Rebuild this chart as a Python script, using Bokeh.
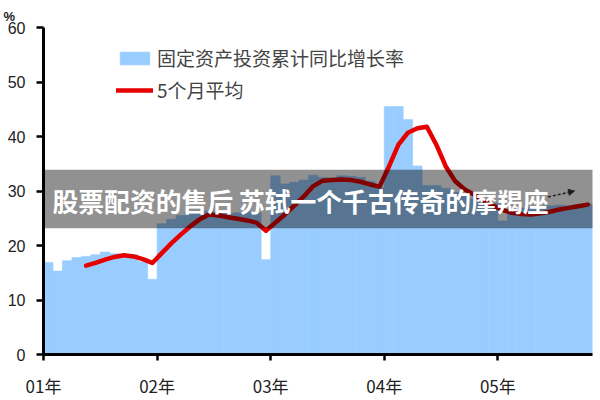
from bokeh.plotting import figure
from bokeh.models import (Range1d, FixedTicker, Legend, LegendItem, Label,
                          BoxAnnotation, Arrow, NormalHead, ColumnDataSource)
from bokeh.embed import file_html
from bokeh.resources import INLINE

# ---------------- data ----------------
bar_values = [
    16.9, 15.3, 17.2, 17.8, 18.0, 18.3, 18.8, 18.5, 18.4, 18.3, 17.0, 13.8,   # 2001
    24.0, 24.8, 25.5, 26.0, 26.3, 26.3, 26.0, 25.8, 26.0, 26.2, 26.0, 17.4,   # 2002
    32.8, 31.3, 31.6, 32.0, 32.9, 32.5, 32.4, 32.8, 32.7, 32.5, 31.8, 30.6,   # 2003
    45.5, 45.5, 43.1, 34.6, 31.0, 31.0, 30.5, 29.8, 29.2, 28.6, 28.2, 27.8,   # 2004
    24.5, 26.5, 26.9, 27.1, 27.2, 27.3, 27.4, 27.3, 27.5, 27.6,               # 2005
]
months = list(range(len(bar_values)))

ma_months = list(range(4, 58))
ma_values = [
    16.3, 16.8, 17.4, 17.9, 18.2, 18.0, 17.5, 16.8,
    18.6, 20.4, 22.0, 23.5, 24.8, 25.7, 25.5, 25.2, 24.9, 24.6, 24.2, 22.7,
    24.2, 25.7, 27.3, 29.0, 30.9, 31.9, 32.0, 32.1, 32.0, 31.7, 31.2, 30.8,
    34.5, 38.5, 40.7, 41.5, 41.8, 38.5, 34.5, 31.8, 30.3, 29.3, 28.3, 27.3,
    26.5, 26.0, 25.8, 25.7, 25.9, 26.2, 26.6, 26.9, 27.2, 27.5,
]

tick_months = [0, 12, 24, 36, 48]
tick_labels = ["01年", "02年", "03年", "04年", "05年"]
y_ticks = [0, 10, 20, 30, 40, 50, 60]

series_bar_name = "固定资产投资累计同比增长率"
series_ma_name = "5个月平均"
banner_text = "股票配资的售后 苏轼一个千古传奇的摩羯座"
unit_text = "%"

# arrow annotation (end of the average line)
arrow_start = (53.3, 28.9)
arrow_end = (56.1, 30.0)

CJK = "Noto Sans CJK SC"

# ---------------- figure ----------------
p = figure(width=600, height=400, output_backend="svg", toolbar_location=None,
           x_range=Range1d(0, 58), y_range=Range1d(0, 60),
           min_border_left=43, min_border_right=8, min_border_top=27,
           min_border_bottom=44, title=unit_text)
p.outline_line_color = None
p.grid.visible = False
p.background_fill_color = "white"
p.border_fill_color = "white"

# "%" unit shown as the title, at the top-left corner
p.title.align = "left"
p.title.offset = -40
p.title.standoff = 8
p.title.text_font = "Liberation Sans"
p.title.text_font_size = "13px"
p.title.text_font_style = "bold"
p.title.text_color = "#222222"

bar_src = ColumnDataSource(dict(x=[m + 0.5 for m in months], top=bar_values))
bars = p.vbar(x="x", top="top", width=1.0, bottom=0, source=bar_src,
              fill_color="#99ccff", line_color="#99ccff", line_width=0.6)

ma_src = ColumnDataSource(dict(x=[m + 0.5 for m in ma_months], y=ma_values))
line = p.line(x="x", y="y", source=ma_src, line_color="#e60000",
              line_width=4.5, line_join="round", line_cap="round")

# axes
for ax in (p.xaxis[0], p.yaxis[0]):
    ax.axis_line_width = 3
    ax.axis_line_color = "black"
    ax.major_tick_line_width = 2.5
    ax.major_tick_line_color = "black"
    ax.major_tick_in = 0
    ax.minor_tick_line_color = None
    ax.major_label_text_color = "#222222"

p.yaxis.ticker = FixedTicker(ticks=y_ticks)
p.yaxis.major_tick_out = 7
p.yaxis.major_label_standoff = 11
p.yaxis.major_label_text_font = "Liberation Sans"
p.yaxis.major_label_text_font_size = "16px"

p.xaxis.ticker = FixedTicker(ticks=tick_months)
p.xaxis.major_label_overrides = {m: t for m, t in zip(tick_months, tick_labels)}
p.xaxis.major_tick_out = 6
p.xaxis.major_label_standoff = 12
p.xaxis.major_label_text_font = CJK
p.xaxis.major_label_text_font_size = "17px"

# legend
legend = Legend(items=[LegendItem(label=series_bar_name, renderers=[bars]),
                       LegendItem(label=series_ma_name, renderers=[line])],
                location=(73, 251))
legend.border_line_color = None
legend.background_fill_alpha = 0
legend.padding = 0
legend.margin = 0
legend.spacing = 5
legend.glyph_width = 37
legend.glyph_height = 16
legend.label_standoff = 4
legend.label_text_font = CJK
legend.label_text_font_size = "19px"
legend.label_text_color = "#444444"
p.add_layout(legend)

# arrow
p.add_layout(Arrow(end=NormalHead(size=6, fill_color="#333333", line_color="#333333"),
                   x_start=arrow_start[0], y_start=arrow_start[1],
                   x_end=arrow_end[0], y_end=arrow_end[1],
                   line_color="#333333", line_width=1.5, line_dash="3 2"))

# banner overlay
p.add_layout(BoxAnnotation(left=-10, right=70, bottom=23.16, top=33.92,
                           fill_color="black", fill_alpha=0.43, line_color=None))
p.add_layout(Label(x=0.95, y=28.3, text=banner_text, text_font=CJK,
                   text_font_size="25.8px", text_font_style="bold",
                   text_color="white", text_baseline="middle"))

open("out.html", "w").write(file_html(p, INLINE))
